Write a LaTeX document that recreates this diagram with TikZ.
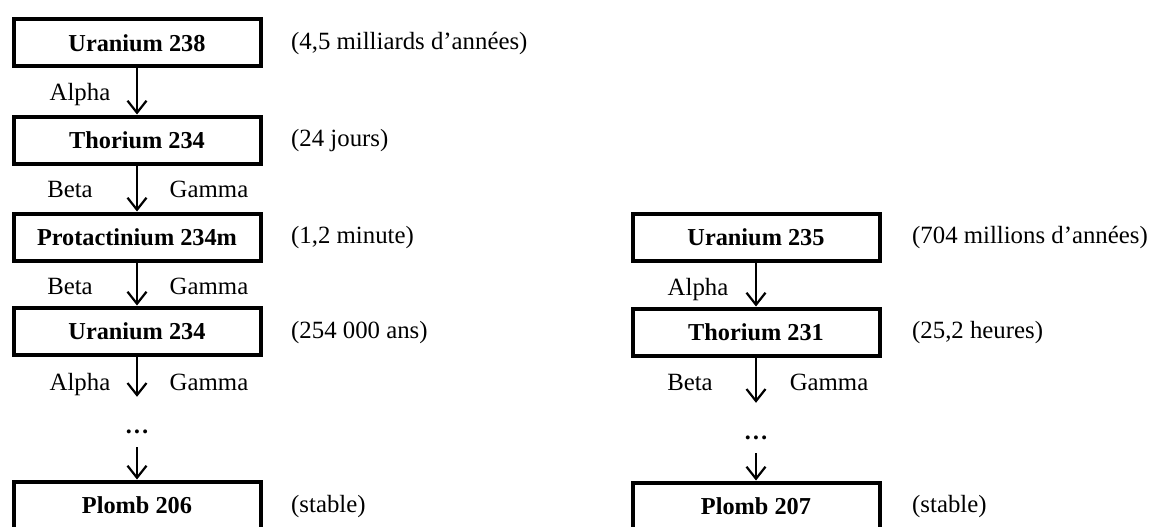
\documentclass[tikz,border=0pt]{standalone}
\usepackage{fontspec}
\setmainfont{Liberation Serif}
\usetikzlibrary{arrows.meta}
\begin{document}
\begin{tikzpicture}[x=1pt,y=-1pt,
  font=\fontsize{24.8}{28}\selectfont,
  box/.style={draw=black,line width=4pt,minimum width=247pt,minimum height=47pt,inner sep=0pt,font=\fontsize{24.3}{28}\selectfont\bfseries},
  side/.style={anchor=west,inner sep=0pt},
  lab/.style={inner sep=0pt,anchor=base},
  dotsn/.style={inner sep=0pt,minimum height=50pt,text height=22pt,text depth=0pt,font=\fontsize{24.3}{28}\selectfont\bfseries},
  arr/.style={line width=2pt,-{Straight Barb[length=12pt,width=19pt,line width=2.2pt]}}]
\useasboundingbox (0,0) rectangle (1151,527);
% left chain
\node[box] (u238) at (137,43) {Uranium 238};
\node[box] (th234) at (137,140) {Thorium 234};
\node[box] (pa234) at (137,237) {Protactinium 234m};
\node[box] (u234) at (137,331) {Uranium 234};
\node[dotsn] (d1) at (137,422) {\ldots};
\node[box] (pb206) at (137,505) {Plomb 206};
\draw[arr] (u238) -- (th234);
\draw[arr] (th234) -- (pa234);
\draw[arr] (pa234) -- (u234);
\draw[arr] (u234) -- (d1);
\draw[arr] (d1) -- (pb206);
\node[lab] (l1) at (80,100) {Alpha};
\node[lab] (l2) at (70,197) {Beta};
\node[lab] (l3) at (209,197) {Gamma};
\node[lab] (l4) at (70,294) {Beta};
\node[lab] (l5) at (209,294) {Gamma};
\node[lab] (l6) at (80,390) {Alpha};
\node[lab] (l7) at (209,390) {Gamma};
\node[side] (s1) at (291,44) {(4,5 milliards d’années)};
\node[side] (s2) at (291,141) {(24 jours)};
\node[side] (s3) at (291,238) {(1,2 minute)};
\node[side] (s4) at (291,333) {(254 000 ans)};
\node[side] (s5) at (291,507) {(stable)};
% right chain
\node[box] (u235) at (756,237) {Uranium 235};
\node[box] (th231) at (756,332) {Thorium 231};
\node[dotsn] (d2) at (756,428) {\ldots};
\node[box] (pb207) at (756,506) {Plomb 207};
\draw[arr] (u235) -- (th231);
\draw[arr] (th231) -- (d2);
\draw[arr] (d2) -- (pb207);
\node[lab] (r1) at (698,295) {Alpha};
\node[lab] (r2) at (690,390) {Beta};
\node[lab] (r3) at (829,390) {Gamma};
\node[side] (t1) at (912,238) {(704 millions d’années)};
\node[side] (t2) at (912,333) {(25,2 heures)};
\node[side] (t3) at (912,507) {(stable)};
\end{tikzpicture}
\end{document}
